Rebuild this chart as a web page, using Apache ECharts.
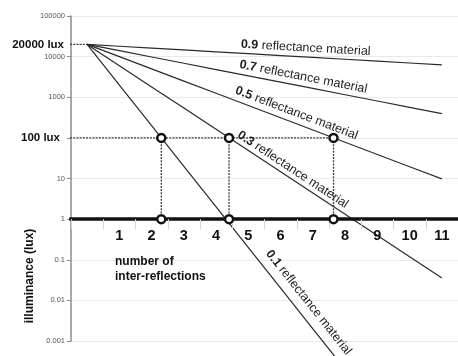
<!DOCTYPE html>
<html>
<head>
<meta charset="utf-8">
<script src="https://cdn.jsdelivr.net/npm/echarts@6/dist/echarts.min.js"></script>
<style>
  html, body { margin: 0; padding: 0; background: #fff; }
  #c { width: 458px; height: 356px; }
</style>
</head>
<body>
<div id="c"></div>
<script>
// Number of inter-reflections (step 0 = direct light, unlabeled)
const steps = ['', '1', '2', '3', '4', '5', '6', '7', '8', '9', '10', '11'];

// Illuminance (lux) after each reflection, per surface reflectance
const refl09 = [20000, 18000, 16200, 14580, 13122, 11810, 10629, 9566, 8609, 7748, 6974, 6276];
const refl07 = [20000, 14000, 9800, 6860, 4802, 3361, 2353, 1647, 1153, 807, 565, 395];
const refl05 = [20000, 10000, 5000, 2500, 1250, 625, 312.5, 156.3, 78.1, 39.1, 19.5, 9.77];
const refl03 = [20000, 6000, 1800, 540, 162, 48.6, 14.6, 4.37, 1.31, 0.394, 0.118, 0.0354];
const refl01 = [20000, 2000, 200, 20, 2, 0.2, 0.02, 0.002, 0.0002, 0.00002, 0.000002, 0.0000002];
const reflectances = ['0.9', '0.7', '0.5', '0.3', '0.1'];

// Reference levels and the steps where 0.1, 0.3 and 0.5 drop to 100 lux
const sourceLux = 20000;
const targetLux = 100;
const baseLux = 1;
const crossings = [2.3, 4.4, 7.64];

// Log axis tick labels, 10^-3 .. 10^5 (100 is written as "100 lux")
const yTickLabels = ['0.001', '0.01', '0.1', '1', '10', '', '1000', '10000', '100000'];
const yMin = 0.001, yMax = 100000;

const FONT = '"Liberation Sans", Arial, sans-serif';
const GRID = { left: 71, top: 16, width: 393, height: 325 };

const chart = echarts.init(document.getElementById('c'), null, { renderer: 'canvas' });

const lineData = [refl09, refl07, refl05, refl03, refl01];

// Move the category axis up so it sits on the 1 lux line
const decades = Math.log10(yMax) - Math.log10(yMin);
const axisOffset = -GRID.height * (Math.log10(baseLux) - Math.log10(yMin)) / decades;

const series = [];
lineData.forEach((arr, i) => {
  series.push({
    name: reflectances[i],
    type: 'line',
    xAxisIndex: 0, yAxisIndex: 0,
    data: arr,
    symbol: 'none',
    clip: false,
    silent: true,
    lineStyle: { color: '#2a2a2a', width: 1.2 },
    z: 3
  });
});

const guideStyle = { color: '#3a3a3a', width: 1.3, type: [2, 1.2] };
const GUIDE_START = -0.63;
// horizontal guides at 20000 lux and 100 lux
series.push({
  type: 'line', xAxisIndex: 1, yAxisIndex: 0, symbol: 'none', clip: false, silent: true,
  data: [[GUIDE_START, sourceLux], [0, sourceLux]], lineStyle: guideStyle, z: 2
});
series.push({
  type: 'line', xAxisIndex: 1, yAxisIndex: 0, symbol: 'none', clip: false, silent: true,
  data: [[GUIDE_START, targetLux], [crossings[crossings.length - 1], targetLux]], lineStyle: guideStyle, z: 2
});
// vertical guides down to the axis
crossings.forEach(c => {
  series.push({
    type: 'line', xAxisIndex: 1, yAxisIndex: 0, symbol: 'none', clip: false, silent: true,
    data: [[c, targetLux], [c, baseLux]], lineStyle: guideStyle, z: 2
  });
});
// open circle markers
const markerData = [];
crossings.forEach(c => { markerData.push([c, targetLux]); markerData.push([c, baseLux]); });
series.push({
  type: 'scatter', xAxisIndex: 1, yAxisIndex: 0, silent: true, clip: false,
  data: markerData, symbol: 'circle', symbolSize: 8,
  itemStyle: { color: '#ffffff', borderColor: '#111111', borderWidth: 2.5, opacity: 1 },
  z: 6
});

chart.setOption({
  animation: false,
  backgroundColor: '#ffffff',
  grid: GRID,
  xAxis: [
    {
      type: 'category',
      data: steps,
      boundaryGap: true,
      position: 'bottom',
      offset: axisOffset,
      axisLine: { show: true, onZero: false, lineStyle: { color: '#111111', width: 3.5, cap: 'square' } },
      axisTick: { show: true, length: 10, lineStyle: { color: '#d4d4d4', width: 1 } },
      axisLabel: { color: '#111111', fontSize: 14.5, fontWeight: 'bold', fontFamily: FONT, margin: 9 },
      splitLine: { show: false },
      z: 5
    },
    {
      type: 'value', min: -0.5, max: 11.5, show: false,
      axisLine: { onZero: false }
    }
  ],
  yAxis: {
    type: 'log',
    logBase: 10,
    min: yMin,
    max: yMax,
    splitNumber: 8,
    axisLine: { show: true, onZero: false, lineStyle: { color: '#8c8c8c', width: 1.5 } },
    axisTick: { show: true, length: 4, lineStyle: { color: '#8c8c8c', width: 1 } },
    axisLabel: {
      color: '#555555', fontSize: 7.5, fontFamily: FONT, margin: 6,
      formatter: v => yTickLabels[Math.round(Math.log10(v)) + 3] || ''
    },
    splitLine: { show: true, lineStyle: { color: '#e9e9e9', width: 1 } }
  },
  series: series
});

// Text placed along each reflectance line: step position and distance above the line
const lineLabels = [
  { at: 4.75, gap: 2.5 },
  { at: 4.67, gap: 3 },
  { at: 4.5, gap: 3.5 },
  { at: 4.55, gap: 2 },
  { at: 5.3, gap: 6.5 }
];

const graphics = [];
lineData.forEach((arr, i) => {
  const k = Math.floor(lineLabels[i].at);
  const f = lineLabels[i].at - k;
  const p0 = chart.convertToPixel({ seriesIndex: i }, [k, arr[k]]);
  const p1 = chart.convertToPixel({ seriesIndex: i }, [k + 1, arr[k + 1]]);
  const dx = p1[0] - p0[0], dy = p1[1] - p0[1];
  const len = Math.hypot(dx, dy);
  const ux = dx / len, uy = dy / len;
  const nx = uy, ny = -ux; // normal pointing above the line
  const g = lineLabels[i].gap;
  graphics.push({
    type: 'text',
    x: p0[0] + f * dx + nx * g,
    y: p0[1] + f * dy + ny * g,
    rotation: -Math.atan2(dy, dx),
    silent: true,
    z: 10,
    style: {
      text: '{b|' + reflectances[i] + '} reflectance material',
      fontSize: 12.5,
      fontFamily: FONT,
      fill: '#1e1e1e',
      align: 'left',
      verticalAlign: 'bottom',
      rich: {
        b: { fontWeight: 'bold', fontSize: 12.5, fontFamily: FONT, fill: '#1e1e1e' }
      }
    }
  });
});

const axisX = chart.convertToPixel({ xAxisIndex: 1 }, -0.5);
[[sourceLux, '20000 lux', 7], [targetLux, '100 lux', 11]].forEach(([v, t, pad]) => {
  graphics.push({
    type: 'text',
    x: axisX - pad,
    y: chart.convertToPixel({ yAxisIndex: 0 }, v),
    silent: true,
    style: {
      text: t, fontSize: 11.5, fontWeight: 'bold', fontFamily: FONT, fill: '#111111',
      align: 'right', verticalAlign: 'middle'
    }
  });
});

graphics.push({
  type: 'text', x: 30, y: 276, rotation: Math.PI / 2, silent: true,
  style: {
    text: 'illuminance (lux)', fontSize: 12, fontWeight: 'bold', fontFamily: FONT,
    fill: '#111111', align: 'center', verticalAlign: 'middle'
  }
});
graphics.push({
  type: 'text', x: 115, y: 254, silent: true,
  style: {
    text: 'number of\ninter-reflections', fontSize: 12, fontWeight: 'bold', fontFamily: FONT,
    fill: '#111111', align: 'left', verticalAlign: 'top', lineHeight: 15
  }
});

chart.setOption({ graphic: graphics });
</script>
</body>
</html>
